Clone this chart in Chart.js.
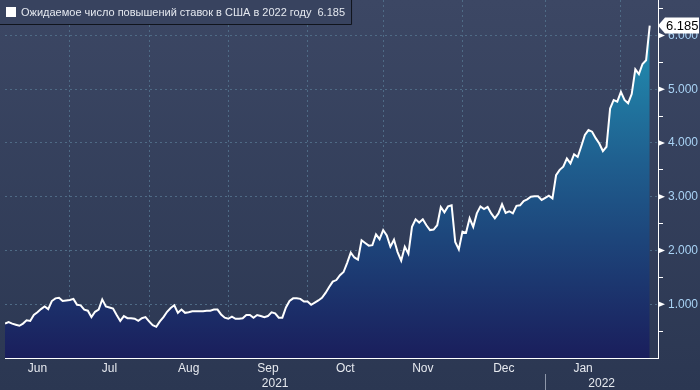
<!DOCTYPE html>
<html>
<head>
<meta charset="utf-8">
<script src="https://cdn.jsdelivr.net/npm/chart.js@4.4.1/dist/chart.umd.min.js"></script>
<style>
  html, body { margin: 0; padding: 0; background: #2f3b56; }
  canvas { display: block; }
</style>
</head>
<body>
<canvas id="hikes" width="700" height="390"></canvas>
<script>
const seriesLabel = 'Ожидаемое число повышений ставок в США в 2022 году';

// one value per weekday, 7 Jun 2021 .. 11 Feb 2022
const hikes = [
  0.64, 0.67, 0.64, 0.62, 0.60, 0.64, 0.70, 0.69, 0.80, 0.85,
  0.91, 0.96, 0.91, 1.06, 1.11, 1.12, 1.06, 1.07, 1.08, 1.10,
  0.99, 0.98, 0.90, 0.88, 0.76, 0.86, 0.90, 1.09, 0.96, 0.94,
  0.92, 0.80, 0.69, 0.78, 0.74, 0.74, 0.73, 0.69, 0.74, 0.76,
  0.68, 0.61, 0.58, 0.68, 0.76, 0.86, 0.93, 0.98, 0.84, 0.90,
  0.84, 0.85, 0.87, 0.87, 0.87, 0.87, 0.88, 0.88, 0.90, 0.90,
  0.81, 0.75, 0.73, 0.77, 0.73, 0.73, 0.74, 0.80, 0.80, 0.75,
  0.80, 0.78, 0.76, 0.78, 0.85, 0.83, 0.75, 0.75, 0.94, 1.06,
  1.11, 1.11, 1.10, 1.05, 1.05, 0.99, 1.03, 1.07, 1.12, 1.21,
  1.32, 1.42, 1.45, 1.54, 1.60, 1.77, 1.96, 1.87, 1.83, 2.19,
  2.14, 2.09, 2.10, 2.30, 2.21, 2.38, 2.28, 2.07, 2.20, 1.97,
  1.81, 2.07, 1.94, 2.44, 2.58, 2.52, 2.58, 2.47, 2.38, 2.39,
  2.47, 2.81, 2.71, 2.82, 2.84, 2.16, 2.02, 2.35, 2.33, 2.60,
  2.44, 2.69, 2.82, 2.77, 2.81, 2.69, 2.60, 2.69, 2.86, 2.70,
  2.73, 2.69, 2.83, 2.84, 2.92, 2.95, 3.00, 3.01, 3.01, 2.94,
  2.98, 3.02, 2.97, 3.40, 3.50, 3.56, 3.71, 3.62, 3.79, 3.74,
  3.94, 4.15, 4.24, 4.21, 4.09, 3.99, 3.85, 3.93, 4.64, 4.80,
  4.77, 4.95, 4.80, 4.74, 4.91, 5.37, 5.28, 5.47, 5.54, 6.185
];

const months = ['Jun', 'Jul', 'Aug', 'Sep', 'Oct', 'Nov', 'Dec', 'Jan'];
const monthStarts = [0, 18, 40, 62, 84, 105, 127, 150, 171]; // weekday index
const years = ['2021', '2022'];
const yearStarts = [0, 150];
const yLabels = [1, 2, 3, 4, 5, 6];

const X_END = 181.3;
const Y_TOP = 6.66;
const FONT = 'Liberation Sans, Arial, sans-serif';
const GRID = '#4f6b86';

const monthMids = months.map((m, i) => (monthStarts[i] + monthStarts[i + 1]) / 2);
const yearMids = years.map((y, i) => (yearStarts[i] + (yearStarts[i + 1] ?? X_END)) / 2);

// keep chart.js from reserving room for edge labels
function noEdgePadding(s) {
  s.paddingTop = 0; s.paddingBottom = 0;
  s.paddingLeft = 0; s.paddingRight = 0;
}

const decor = {
  id: 'decor',
  beforeDraw(chart) {
    const { ctx, width, height } = chart;
    const g = ctx.createLinearGradient(0, 0, 0, height);
    g.addColorStop(0, '#3c4764');
    g.addColorStop(1, '#2b3752');
    ctx.save();
    ctx.fillStyle = g;
    ctx.fillRect(0, 0, width, height);
    ctx.restore();
  },
  afterDraw(chart) {
    const { ctx } = chart;
    const xs = chart.scales.x, ys = chart.scales.y;
    const axisX = chart.chartArea.right;
    ctx.save();

    // pointer marks on the labelled y ticks
    ctx.fillStyle = '#ffffff';
    yLabels.forEach(v => {
      const py = ys.getPixelForValue(v);
      ctx.beginPath();
      ctx.moveTo(axisX, py - 3);
      ctx.lineTo(axisX + 7, py);
      ctx.lineTo(axisX, py + 3);
      ctx.closePath();
      ctx.fill();
    });

    // year separator
    const sx = Math.round(xs.getPixelForValue(yearStarts[1])) + 0.5;
    ctx.strokeStyle = '#8e97aa';
    ctx.lineWidth = 1;
    ctx.beginPath();
    ctx.moveTo(sx, chart.scales.yr.top - 1);
    ctx.lineTo(sx, chart.height);
    ctx.stroke();

    // last value callout
    const last = hikes[hikes.length - 1];
    const ly = ys.getPixelForValue(last);
    ctx.fillStyle = '#ffffff';
    ctx.beginPath();
    ctx.moveTo(axisX, ly);
    ctx.lineTo(axisX + 7, ly - 8);
    ctx.lineTo(699, ly - 8);
    ctx.lineTo(699, ly + 8);
    ctx.lineTo(axisX + 7, ly + 8);
    ctx.closePath();
    ctx.fill();
    ctx.fillStyle = '#000000';
    ctx.font = '13px ' + FONT;
    ctx.textBaseline = 'middle';
    ctx.textAlign = 'left';
    ctx.fillText(last.toFixed(3), axisX + 8, ly + 1);

    // legend box
    const text = seriesLabel + '  ' + last.toFixed(3);
    ctx.font = '11px ' + FONT;
    const w = ctx.measureText(text).width + 27;
    ctx.fillStyle = '#38435f';
    ctx.fillRect(0, 0, w, 24);
    ctx.strokeStyle = '#10141c';
    ctx.beginPath();
    ctx.moveTo(0, 24.5);
    ctx.lineTo(w + 0.5, 24.5);
    ctx.lineTo(w + 0.5, 0);
    ctx.stroke();
    ctx.fillStyle = '#ffffff';
    ctx.fillRect(6, 7, 10, 10);
    ctx.fillStyle = '#e4e8ef';
    ctx.fillText(text, 21, 13);
    ctx.restore();
  }
};

new Chart(document.getElementById('hikes'), {
  type: 'line',
  data: {
    datasets: [{
      label: seriesLabel,
      data: hikes.map((v, i) => ({ x: i, y: v })),
      borderColor: '#ffffff',
      borderWidth: 2,
      pointRadius: 0,
      tension: 0,
      fill: 'origin',
      backgroundColor: c => {
        const a = c.chart.chartArea;
        if (!a) return '#1e3f7a';
        const g = c.chart.ctx.createLinearGradient(0, a.top, 0, a.bottom);
        g.addColorStop(0, '#229cbb');
        g.addColorStop(0.45, '#1f5f8f');
        g.addColorStop(1, '#1a1e5c');
        return g;
      }
    }]
  },
  options: {
    responsive: false,
    animation: false,
    layout: { padding: { left: 5, top: 0, right: 0, bottom: 0 } },
    plugins: { legend: { display: false }, tooltip: { enabled: false } },
    scales: {
      x: {
        type: 'linear',
        min: 0,
        max: X_END,
        weight: 0,
        afterBuildTicks(s) {
          s.ticks = monthStarts.slice(1).concat(monthMids)
            .sort((a, b) => a - b)
            .map(v => ({ value: v }));
        },
        afterFit(s) { s.height = 17; noEdgePadding(s); },
        ticks: {
          autoSkip: false,
          maxRotation: 0,
          padding: 3,
          color: '#e6e9ef',
          font: { family: FONT, size: 12 },
          callback: v => {
            const i = monthMids.indexOf(v);
            return i >= 0 ? months[i] : '';
          }
        },
        grid: {
          drawTicks: false,
          color: c => (c.tick && monthStarts.slice(1).includes(c.tick.value)) ? GRID : 'transparent'
        },
        border: { color: '#ffffff', width: 1, dash: [2, 3] }
      },
      yr: {
        type: 'linear',
        position: 'bottom',
        min: 0,
        max: X_END,
        weight: 1,
        afterBuildTicks(s) { s.ticks = yearMids.map(v => ({ value: v })); },
        afterFit(s) { s.height = 15; noEdgePadding(s); },
        ticks: {
          autoSkip: false,
          maxRotation: 0,
          padding: -7,
          color: '#e6e9ef',
          font: { family: FONT, size: 12 },
          callback: (v, i) => years[i]
        },
        grid: { display: false },
        border: { display: false }
      },
      y: {
        position: 'right',
        min: 0,
        max: Y_TOP,
        afterFit(s) { s.width = 42; noEdgePadding(s); },
        ticks: {
          stepSize: 0.5,
          includeBounds: false,
          padding: 5,
          color: '#a9d3f5',
          font: { family: FONT, size: 12 },
          callback: v => yLabels.includes(v) ? v.toFixed(3) : ''
        },
        grid: {
          tickLength: 5,
          color: c => (c.tick && yLabels.includes(c.tick.value)) ? GRID : 'transparent',
          tickColor: c => (c.tick && c.tick.value % 1 === 0.5) ? '#ffffff' : 'transparent'
        },
        border: { color: '#ffffff', width: 1, dash: [2, 3] }
      }
    }
  },
  plugins: [decor]
});
</script>
</body>
</html>
